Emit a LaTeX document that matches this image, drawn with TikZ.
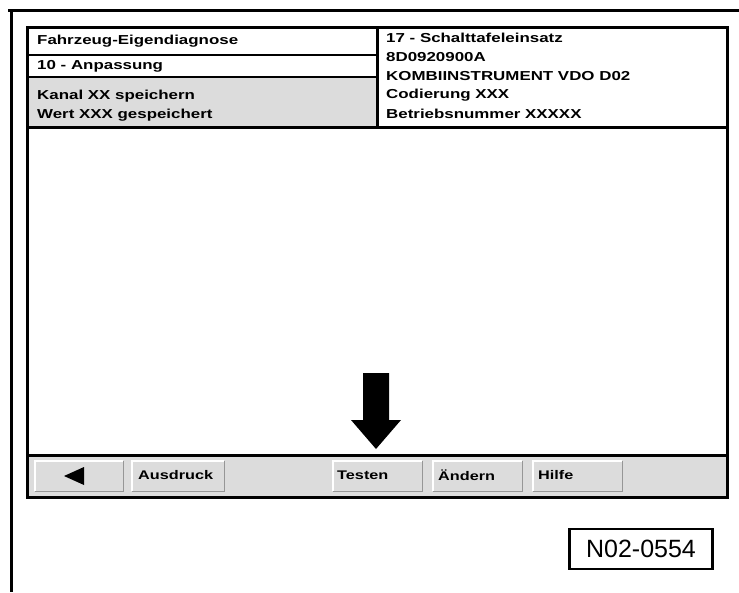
\documentclass[tikz,border=0pt]{standalone}
\usepackage{fontspec}
\setmainfont{Liberation Sans}
\newfontfamily\scrfont{Liberation Sans}[FakeStretch=1.3]
\begin{document}
\begin{tikzpicture}[x=1pt,y=-1pt]
\definecolor{panel}{RGB}{220,220,220}
\definecolor{btnedge}{RGB}{150,150,150}
\tikzset{
  frameline/.style={line width=3pt},
  thinline/.style={line width=2pt},
  hdr/.style={anchor=west, inner sep=0pt, font=\scrfont\bfseries\fontsize{13}{15}\selectfont},
  btn/.style={rectangle, fill=panel, minimum height=30pt, inner sep=0pt},
  btxt/.style={anchor=west, inner sep=0pt, font=\scrfont\bfseries\fontsize{12.5}{14}\selectfont},
  labelbox/.style={draw, line width=2.5pt, rectangle, minimum width=143pt, minimum height=40pt, inner sep=0pt, font=\fontsize{25}{28}\selectfont}
}
\useasboundingbox (0,0) rectangle (739,592);
\fill[white] (0,0) rectangle (739,592);
% outer frame (partial)
\draw[frameline] (8,10) -- (739,10);
\draw[frameline] (11,10) -- (11,592);
% screen
\fill[panel] (27,77) rectangle (377,127);
\fill[panel] (27,455) rectangle (727,497);
\draw[thinline] (27,55) -- (377,55);
\draw[thinline] (27,77) -- (377,77);
\draw[frameline] (377,27) -- (377,127);
\draw[frameline] (27,127) -- (727,127);
\draw[frameline] (27,455) -- (727,455);
\draw[frameline] (27,27) rectangle (727,497);
% header texts left
\node[hdr] (t1) at (37,41) {Fahrzeug-Eigendiagnose};
\node[hdr] (t2) at (37,66) {10 - Anpassung};
\node[hdr] (t3) at (37,96) {Kanal XX speichern};
\node[hdr] (t4) at (37,115) {Wert XXX gespeichert};
% header texts right
\node[hdr] (r1) at (386,38) {17 - Schalttafeleinsatz};
\node[hdr] (r2) at (386,57) {8D0920900A};
\node[hdr] (r3) at (386,76) {KOMBIINSTRUMENT VDO D02};
\node[hdr] (r4) at (386,95) {Codierung XXX};
\node[hdr] (r5) at (386,114) {Betriebsnummer XXXXX};
% buttons
\foreach \n/\a/\b in {b1/35/123, b2/132/224, b3/333/422, b4/433/522, b5/533/622}{
  \node[btn, minimum width={\b-\a}, anchor=north west] (\n) at (\a,461) {};
  \draw[white, line width=1.5pt] (\n.south west) -- (\n.north west) -- (\n.north east);
  \draw[btnedge, line width=1.5pt] (\n.south west) -- (\n.south east) -- (\n.north east);
}
\fill (64,476) -- (84,467) -- (84,485) -- cycle;
\node[btxt] (bt2) at (138,475) {Ausdruck};
\node[btxt] (bt3) at (337,475) {Testen};
\node[btxt] (bt4) at (438,475) {Ändern};
\node[btxt] (bt5) at (538,475) {Hilfe};
% big arrow
\fill (363,373) -- (389,373) -- (389,420) -- (401,420) -- (376,449) -- (351,420) -- (363,420) -- cycle;
% label
\node[labelbox] (lab) at (641,549) {N02-0554};
\end{tikzpicture}
\end{document}
